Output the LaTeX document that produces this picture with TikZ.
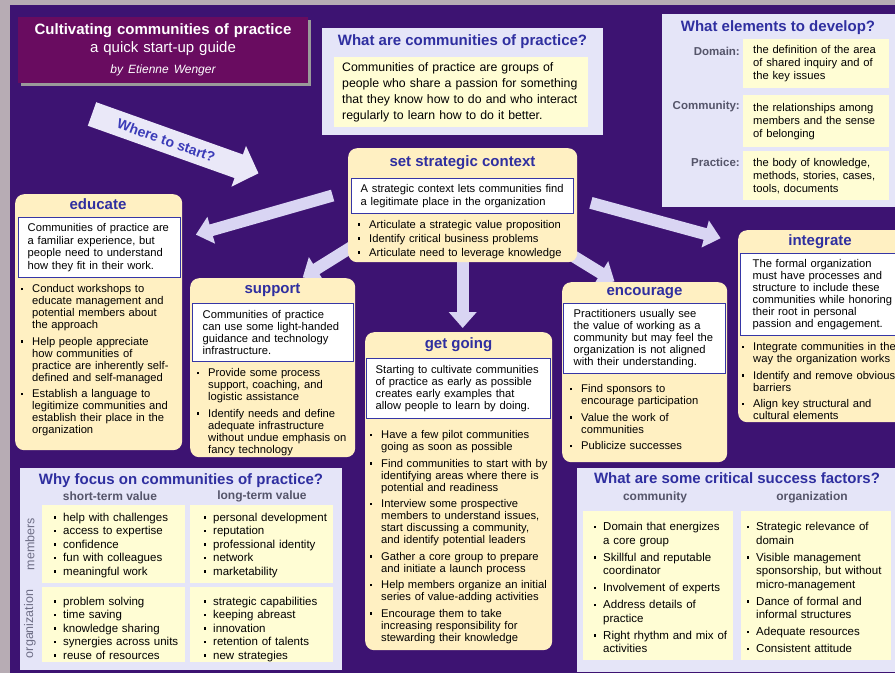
\documentclass[tikz,border=0pt]{standalone}
\usepackage{fontspec}
\setmainfont{Liberation Sans}
\usetikzlibrary{arrows.meta,positioning,shadows,backgrounds}

\definecolor{bgpurple}{HTML}{3D1372}
\definecolor{edgegray}{HTML}{B7ACB4}
\definecolor{titlemag}{HTML}{690C60}
\definecolor{shadowgray}{HTML}{9A9A9A}
\definecolor{stepyellow}{HTML}{FFF0C2}
\definecolor{paleyellow}{HTML}{FFFDD4}
\definecolor{lavpanel}{HTML}{E5E5F8}
\definecolor{headblue}{HTML}{2F2FA0}
\definecolor{labelgray}{HTML}{55556A}
\definecolor{rowgray}{HTML}{6E6E86}
\definecolor{arrowlav}{HTML}{D9D5F3}
\definecolor{startlav}{HTML}{EAE8F8}
\definecolor{frameblue}{HTML}{3636A6}
\definecolor{starttext}{HTML}{3B3BB8}

\newlength{\bind}
\newcommand{\bitem}[1]{\par\hangindent=\bind\hangafter=1\noindent
  \makebox[\bind][l]{\hspace{1.5pt}\raisebox{2.6pt}{\rule{2.2pt}{2.2pt}}}#1\par}

\begin{document}
\begin{tikzpicture}[x=1pt,y=-1pt,
  titlebox/.style={fill=titlemag, text=white, minimum height=66pt, text width=280pt, inner xsep=5pt, inner ysep=0pt, align=center, font=\fontsize{15}{18}\selectfont, drop shadow={shadow xshift=2.5pt, shadow yshift=-2.5pt, fill=shadowgray, opacity=1}},
  stepbox/.style={fill=stepyellow, rounded corners=9pt, inner sep=0pt, anchor=north west},
  steptitle/.style={text=headblue, inner sep=0pt, font=\fontsize{15}{18}\selectfont\bfseries},
  whitebox/.style={draw=frameblue, line width=1.4pt, fill=white, anchor=north west, align=left, inner ysep=0pt, font=\fontsize{11.2}{12}\selectfont},
  steplist/.style={anchor=north west, inner sep=0pt, text width=240pt, align=left, font=\fontsize{11.2}{12}\selectfont, execute at begin node={\setlength{\parskip}{#1}\setlength{\bind}{13pt}}},
  steplist/.default=4.5pt,
  panel/.style={fill=lavpanel, inner sep=0pt, anchor=north west},
  paneltitle/.style={text=headblue, inner sep=0pt, font=\fontsize{15}{18}\selectfont\bfseries},
  cellbox/.style={fill=paleyellow, anchor=north west, align=left, inner ysep=0pt, font=\fontsize{11.2}{13}\selectfont},
  celllist/.style={anchor=north west, inner sep=0pt, text width=170pt, align=left, font=\fontsize{11.5}{13.5}\selectfont, execute at begin node={\setlength{\parskip}{#1}\setlength{\bind}{11pt}}},
  celllist/.default=0pt,
  elemhead/.style={text=labelgray, inner sep=0pt, anchor=east, font=\fontsize{11.5}{13}\selectfont\bfseries},
  colhead/.style={text=labelgray, inner sep=0pt, font=\fontsize{12}{14}\selectfont\bfseries},
  rowhead/.style={text=rowgray, inner sep=0pt, rotate=90, font=\fontsize{12.5}{14}\selectfont},
  linkarrow/.style={draw=arrowlav, line width=12pt, -{Triangle[length=16pt,width=27pt]}},
  startarrow/.style={draw=startlav, line width=25pt, -{Triangle[length=21pt,width=42pt]}, shorten >=95pt},
]
\useasboundingbox (0,0) rectangle (895,673);

\node[titlebox] (title) at (163,50) {{\bfseries Cultivating communities of practice}\\a quick start-up guide\\[3pt]{\fontsize{12}{15}\selectfont\itshape by Etienne Wenger}};

\node[panel, minimum width=281pt, minimum height=107pt] (whatcop) at (322,28) {};
\node[paneltitle] (whatcopT) at (462.5,42) {What are communities of practice?};
\node[cellbox, text width=238pt, inner xsep=8pt, minimum height=70pt, font=\fontsize{12.3}{15.8}\selectfont] (whatcopC) at (334,57) {Communities of practice are groups of\\people who share a passion for something\\that they know how to do and who interact\\regularly to learn how to do it better.};

\node[panel, minimum width=236pt, minimum height=193pt] (elems) at (662,14) {};
\node[paneltitle] (elemsT) at (778,28) {What elements to develop?};
\node[cellbox, text width=126pt, inner xsep=10pt, minimum height=49pt] (domC) at (743,39) {the definition of the area\\of shared inquiry and of\\the key issues};
\node[elemhead] (domL) at (740,51) {Domain:};
\node[cellbox, text width=126pt, inner xsep=10pt, minimum height=52pt] (comC) at (743,95) {the relationships among\\members and the sense\\of belonging};
\node[elemhead] (comL) at (740,107) {Community:};
\node[cellbox, text width=126pt, inner xsep=10pt, minimum height=49pt] (pracC) at (743,151) {the body of knowledge,\\methods, stories, cases,\\tools, documents};
\node[elemhead] (pracL) at (740,162) {Practice:};

\node[stepbox, minimum width=229pt, minimum height=114pt] (strat) at (348,148) {};
\node[steptitle] (stratT) at (462.5,163) {set strategic context};
\node[whitebox, text width=204pt, inner xsep=9pt, minimum height=35pt, font=\fontsize{11.2}{13}\selectfont] (stratW) at (351,178) {A strategic context lets communities find\\a legitimate place in the organization};
\node[steplist=2pt] (stratL) at (356,214) {\bitem{Articulate a strategic value proposition}\bitem{Identify critical business problems}\bitem{Articulate need to leverage knowledge}};

\node[stepbox, minimum width=167pt, minimum height=256pt] (educ) at (15,194) {};
\node[steptitle] (educT) at (98,204) {educate};
\node[whitebox, text width=144pt, inner xsep=9pt, minimum height=60pt, font=\fontsize{11.2}{12.5}\selectfont] (educW) at (18,217) {Communities of practice are\\a familiar experience, but\\people need to understand\\how they fit in their work.};
\node[steplist] (educL) at (19,276) {\bitem{Conduct workshops to\newline educate management and\newline potential members about\newline the approach}\bitem{Help people appreciate\newline how communities of\newline practice are inherently self-\newline defined and self-managed}\bitem{Establish a language to\newline legitimize communities and\newline establish their place in the\newline organization}};

\node[stepbox, minimum width=165pt, minimum height=179pt] (supp) at (190,278) {};
\node[steptitle] (suppT) at (272.5,290) {support};
\node[whitebox, text width=141pt, inner xsep=10pt, minimum height=58pt] (suppW) at (192,303) {Communities of practice\\can use some light-handed\\guidance and technology\\infrastructure.};
\node[steplist] (suppL) at (195,360) {\bitem{Provide some process\newline support, coaching, and\newline logistic assistance}\bitem{Identify needs and define\newline adequate infrastructure\newline without undue emphasis on\newline fancy technology}};

\node[stepbox, minimum width=187pt, minimum height=318pt] (going) at (365,332) {};
\node[steptitle] (goingT) at (458.5,345) {get going};
\node[whitebox, text width=166pt, inner xsep=9pt, minimum height=60pt] (goingW) at (366,358) {Starting to cultivate communities\\of practice as early as possible\\creates early examples that\\allow people to learn by doing.};
\node[steplist] (goingL) at (368,422) {\bitem{Have a few pilot communities\newline going as soon as possible}\bitem{Find communities to start with by\newline identifying areas where there is\newline potential and readiness}\bitem{Interview some prospective\newline members to understand issues,\newline start discussing a community,\newline and identify potential leaders}\bitem{Gather a core group to prepare\newline and initiate a launch process}\bitem{Help members organize an initial\newline series of value-adding activities}\bitem{Encourage them to take\newline increasing responsibility for\newline stewarding their knowledge}};

\node[stepbox, minimum width=165pt, minimum height=180pt] (enc) at (562,282) {};
\node[steptitle] (encT) at (644.5,293) {encourage};
\node[whitebox, text width=142pt, inner xsep=10pt, minimum height=70pt] (encW) at (563,303) {Practitioners usually see\\the value of working as a\\community but may feel the\\organization is not aligned\\with their understanding.};
\node[steplist] (encL) at (568,376) {\bitem{Find sponsors to\newline encourage participation}\bitem{Value the work of\newline communities}\bitem{Publicize successes}};

\node[stepbox, minimum width=172pt, minimum height=192pt] (integ) at (738,230) {};
\node[steptitle] (integT) at (820,242) {integrate};
\node[whitebox, text width=141pt, inner xsep=12pt, minimum height=82pt] (integW) at (740,253) {The formal organization\\must have processes and\\structure to include these\\communities while honoring\\their root in personal\\passion and engagement.};
\node[steplist] (integL) at (740,334) {\bitem{Integrate communities in the\newline way the organization works}\bitem{Identify and remove obvious\newline barriers}\bitem{Align key structural and\newline cultural elements}};

\node[panel, minimum width=322pt, minimum height=202pt] (why) at (20,468) {};
\node[paneltitle] (whyT) at (181,481) {Why focus on communities of practice?};
\node[colhead] (shortH) at (110,496) {short-term value};
\node[colhead] (longH) at (262,496) {long-term value};
\node[cellbox, minimum width=143pt, minimum height=78pt] (memShort) at (42,505) {};
\node[cellbox, minimum width=143pt, minimum height=78pt] (memLong) at (190,505) {};
\node[cellbox, minimum width=143pt, minimum height=75pt] (orgShort) at (42,587) {};
\node[cellbox, minimum width=143pt, minimum height=75pt] (orgLong) at (190,587) {};
\node[celllist] (memShortL) at (52,507.5) {\bitem{help with challenges}\bitem{access to expertise}\bitem{confidence}\bitem{fun with colleagues}\bitem{meaningful work}};
\node[celllist] (memLongL) at (202,507.5) {\bitem{personal development}\bitem{reputation}\bitem{professional identity}\bitem{network}\bitem{marketability}};
\node[celllist] (orgShortL) at (52,591.5) {\bitem{problem solving}\bitem{time saving}\bitem{knowledge sharing}\bitem{synergies across units}\bitem{reuse of resources}};
\node[celllist] (orgLongL) at (202,591.5) {\bitem{strategic capabilities}\bitem{keeping abreast}\bitem{innovation}\bitem{retention of talents}\bitem{new strategies}};
\node[rowhead] (memR) at (30,544) {members};
\node[rowhead] (orgR) at (30,624) {organization};

\node[panel, minimum width=321pt, minimum height=204pt] (csf) at (577,468) {};
\node[paneltitle] (csfT) at (737,478) {What are some critical success factors?};
\node[colhead] (commH) at (655,497) {community};
\node[colhead] (orgH) at (812,497) {organization};
\node[cellbox, minimum width=150pt, minimum height=149pt] (commC) at (583,511) {};
\node[cellbox, minimum width=150pt, minimum height=149pt] (orgC) at (741,511) {};
\node[celllist=3.5pt] (commL) at (592,513.5) {\bitem{Domain that energizes\newline a core group}\bitem{Skillful and reputable\newline coordinator}\bitem{Involvement of experts}\bitem{Address details of\newline practice}\bitem{Right rhythm and mix of\newline activities}};
\node[celllist=3.5pt] (orgL) at (745,513.5) {\bitem{Strategic relevance of\newline domain}\bitem{Visible management\newline sponsorship, but without\newline micro-management}\bitem{Dance of formal and\newline informal structures}\bitem{Adequate resources}\bitem{Consistent attitude}};

\begin{scope}[on background layer]
\fill[edgegray] (0,0) rectangle (895,673);
\fill[bgpurple] (10,5) rectangle (895,673);
\coordinate (wstart) at (92,114);
\draw[startarrow] (wstart) -- node[pos=0.29, sloped, text=starttext, font=\fontsize{14}{16}\selectfont\bfseries] (wtext) {Where to start?} (strat.west);
\draw[linkarrow, shorten <=16pt, shorten >=14pt] (strat.173.5) -- (educ.45.8);
\draw[linkarrow, shorten <=-8pt, shorten >=1pt] (strat.201) -- (supp.72.5);
\draw[linkarrow, shorten <=-6pt, shorten >=4pt] (strat.south) -- (strat.south |- going.north);
\draw[linkarrow, shorten <=-12pt, shorten >=1pt] (strat.-25.2) -- (enc.108.7);
\draw[linkarrow, shorten <=14pt, shorten >=18pt] (strat.3) -- (integ.136);
\end{scope}
\end{tikzpicture}
\end{document}
